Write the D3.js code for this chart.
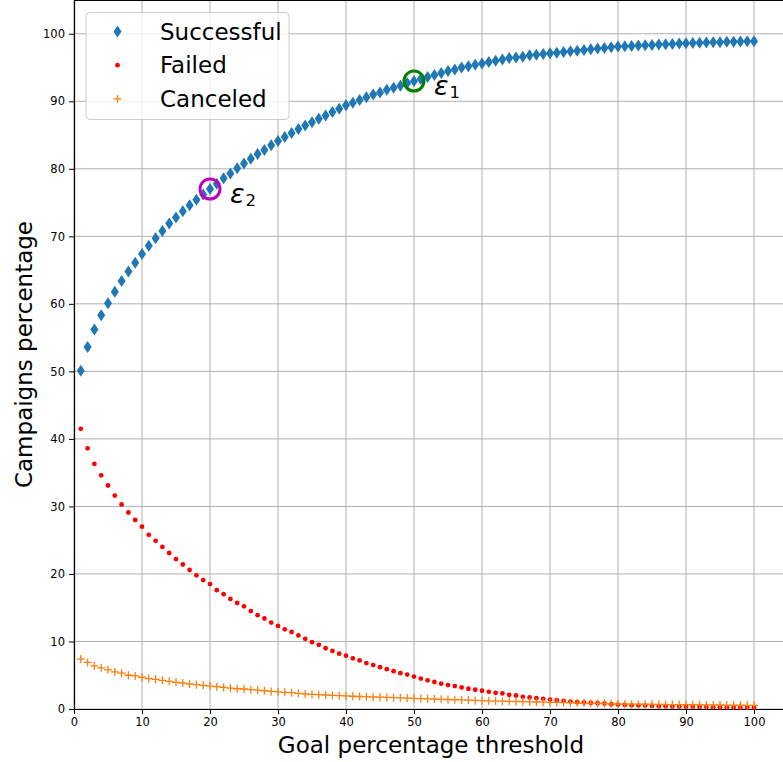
<!DOCTYPE html>
<html>
<head>
<meta charset="utf-8">
<script src="https://cdn.jsdelivr.net/npm/d3@7"></script>
<style>
  body { margin: 0; background: #fff; }
  svg { display: block; font-family: 'DejaVu Sans', sans-serif; }
</style>
</head>
<body>
<script>
'use strict';

// goal percentage thresholds (x)
const thresholds = [
  1, 2, 3, 4, 5, 6, 7, 8, 9, 10,
  11, 12, 13, 14, 15, 16, 17, 18, 19, 20,
  21, 22, 23, 24, 25, 26, 27, 28, 29, 30,
  31, 32, 33, 34, 35, 36, 37, 38, 39, 40,
  41, 42, 43, 44, 45, 46, 47, 48, 49, 50,
  51, 52, 53, 54, 55, 56, 57, 58, 59, 60,
  61, 62, 63, 64, 65, 66, 67, 68, 69, 70,
  71, 72, 73, 74, 75, 76, 77, 78, 79, 80,
  81, 82, 83, 84, 85, 86, 87, 88, 89, 90,
  91, 92, 93, 94, 95, 96, 97, 98, 99, 100
];

const successful = [
  50.1, 53.6, 56.2, 58.3, 60.1, 61.8, 63.4, 64.8, 66.1, 67.4,
  68.6, 69.7, 70.8, 71.9, 72.8, 73.7, 74.6, 75.4, 76.2, 77.0,
  77.8, 78.6, 79.3, 80.1, 80.8, 81.5, 82.2, 82.8, 83.5, 84.1,
  84.7, 85.3, 85.9, 86.4, 86.9, 87.4, 87.9, 88.4, 88.9, 89.4,
  89.8, 90.2, 90.6, 91.0, 91.3, 91.7, 92.0, 92.3, 92.7, 93.0,
  93.3, 93.6, 93.9, 94.2, 94.5, 94.7, 95.0, 95.2, 95.4, 95.6,
  95.8, 96.0, 96.2, 96.4, 96.5, 96.6, 96.8, 96.9, 97.0, 97.1,
  97.2, 97.3, 97.4, 97.5, 97.6, 97.7, 97.8, 97.9, 98.0, 98.1,
  98.15, 98.2, 98.25, 98.3, 98.35, 98.4, 98.45, 98.5, 98.55, 98.6,
  98.63, 98.66, 98.7, 98.73, 98.76, 98.8, 98.83, 98.86, 98.88, 98.9
];

const failed = [
  41.5, 38.6, 36.3, 34.6, 33.1, 31.6, 30.3, 29.1, 28.0, 27.0,
  25.8, 24.9, 24.0, 23.1, 22.2, 21.4, 20.6, 19.8, 19.1, 18.5,
  17.6, 17.0, 16.3, 15.7, 15.2, 14.5, 13.9, 13.4, 12.8, 12.3,
  11.8, 11.4, 10.9, 10.4, 9.9, 9.5, 9.0, 8.6, 8.2, 7.9,
  7.5, 7.2, 6.8, 6.5, 6.2, 5.9, 5.6, 5.3, 5.1, 4.8,
  4.5, 4.25, 4.0, 3.75, 3.55, 3.4, 3.2, 3.0, 2.85, 2.7,
  2.55, 2.4, 2.3, 2.1, 2.0, 1.8, 1.7, 1.6, 1.5, 1.4,
  1.3, 1.2, 1.1, 1.0, 0.95, 0.9, 0.85, 0.8, 0.7, 0.65,
  0.6, 0.55, 0.5, 0.5, 0.45, 0.42, 0.4, 0.38, 0.36, 0.34,
  0.32, 0.3, 0.28, 0.27, 0.25, 0.24, 0.23, 0.22, 0.21, 0.2
];

const canceled = [
  7.4, 6.9, 6.4, 6.1, 5.8, 5.5, 5.3, 5.0, 4.9, 4.7,
  4.5, 4.4, 4.25, 4.1, 3.95, 3.85, 3.7, 3.6, 3.5, 3.4,
  3.3, 3.2, 3.1, 3.0, 2.96, 2.86, 2.8, 2.7, 2.6, 2.55,
  2.47, 2.42, 2.32, 2.22, 2.17, 2.12, 2.07, 2.02, 1.97, 1.93,
  1.89, 1.85, 1.82, 1.78, 1.75, 1.71, 1.68, 1.65, 1.62, 1.58,
  1.55, 1.51, 1.48, 1.44, 1.41, 1.37, 1.34, 1.3, 1.27, 1.23,
  1.21, 1.18, 1.16, 1.13, 1.11, 1.08, 1.06, 1.04, 1.01, 0.99,
  0.97, 0.95, 0.93, 0.91, 0.89, 0.86, 0.83, 0.8, 0.77, 0.74,
  0.73, 0.72, 0.71, 0.7, 0.69, 0.68, 0.67, 0.66, 0.65, 0.64,
  0.63, 0.62, 0.61, 0.6, 0.59, 0.58, 0.57, 0.56, 0.55, 0.54
];

const seriesNames = ['Successful', 'Failed', 'Canceled'];
const xTicks = [0, 10, 20, 30, 40, 50, 60, 70, 80, 90, 100];
const yTicks = [0, 10, 20, 30, 40, 50, 60, 70, 80, 90, 100];

// highlighted thresholds on the Successful curve
const epsThresholds = [50, 20];
const epsLabels     = ['1', '2'];

const colors = {
  Successful: '#1f77b4',
  Failed:     '#ff0000',
  Canceled:   '#ff7f0e',
  eps:        ['#008000', '#bf00bf']
};

const width  = 783;
const height = 762;
const margin = { left: 74, top: 0, bottom: 53 };
const plotR  = 788;

const svg = d3.select('body')
              .append('svg')
              .attr('width', width)
              .attr('height', height);

const x = d3.scaleLinear().domain([0, 105]).range([margin.left, plotR]);
const y = d3.scaleLinear().domain([0, 105]).range([height - margin.bottom, margin.top]);

// grid
const grid = svg.append('g').attr('stroke', '#b0b0b0').attr('stroke-width', 1);
grid.selectAll('.gx').data(xTicks).enter().append('line')
    .attr('x1', d => x(d)).attr('x2', d => x(d))
    .attr('y1', y(0)).attr('y2', y(105));
grid.selectAll('.gy').data(yTicks).enter().append('line')
    .attr('x1', x(0)).attr('x2', x(105))
    .attr('y1', d => y(d)).attr('y2', d => y(d));

// axes
const xAxis = svg.append('g')
                 .attr('transform', 'translate(0,' + y(0) + ')')
                 .call(d3.axisBottom(x).tickValues(xTicks).tickSize(5).tickPadding(4).tickSizeOuter(0));
const yAxis = svg.append('g')
                 .attr('transform', 'translate(' + x(0) + ',0)')
                 .call(d3.axisLeft(y).tickValues(yTicks).tickSize(5).tickPadding(4).tickSizeOuter(0));

[xAxis, yAxis].forEach(ax => {
  ax.selectAll('text').attr('font-size', 11.5).attr('fill', '#000')
    .attr('font-family', 'DejaVu Sans');
  ax.selectAll('.tick line').attr('stroke', '#000').attr('stroke-width', 1);
  ax.select('.domain').attr('stroke', '#000').attr('stroke-width', 1.2);
});

// top spine
svg.append('line')
   .attr('x1', x(0)).attr('x2', plotR)
   .attr('y1', y(105) + 0.5).attr('y2', y(105) + 0.5)
   .attr('stroke', '#000').attr('stroke-width', 1.2);

// Successful: thin diamonds
const diamond = 'M0,-6L4,0L0,6L-4,0Z';
svg.append('g').selectAll('path').data(successful).enter().append('path')
   .attr('d', diamond)
   .attr('transform', (d, i) => 'translate(' + x(thresholds[i]) + ',' + y(d) + ')')
   .attr('fill', colors.Successful);

// Failed: dots
svg.append('g').selectAll('circle').data(failed).enter().append('circle')
   .attr('cx', (d, i) => x(thresholds[i]))
   .attr('cy', d => y(d))
   .attr('r', 2.4)
   .attr('fill', colors.Failed);

// Canceled: plus
const plus = 'M-4,0H4M0,-4V4';
svg.append('g').selectAll('path').data(canceled).enter().append('path')
   .attr('d', plus)
   .attr('transform', (d, i) => 'translate(' + x(thresholds[i]) + ',' + y(d) + ')')
   .attr('stroke', colors.Canceled)
   .attr('stroke-width', 1.3)
   .attr('fill', 'none');

// epsilon markers
epsThresholds.forEach((t, k) => {
  const cx = x(t);
  const cy = y(successful[thresholds.indexOf(t)]);
  svg.append('circle')
     .attr('cx', cx).attr('cy', cy).attr('r', 10)
     .attr('fill', 'none')
     .attr('stroke', colors.eps[k])
     .attr('stroke-width', 3);
  const lab = svg.append('text')
                 .attr('x', cx + 20)
                 .attr('y', cy + 14)
                 .attr('font-size', 27)
                 .attr('fill', '#000');
  lab.append('tspan').attr('font-style', 'italic').text('ε');
  lab.append('tspan').attr('font-size', 16.5).attr('dx', 1).attr('dy', 2.5).text(epsLabels[k]);
});

// axis labels
svg.append('text')
   .attr('x', (x(0) + plotR) / 2)
   .attr('y', 753)
   .attr('text-anchor', 'middle')
   .attr('font-size', 23)
   .text('Goal percentage threshold');

svg.append('text')
   .attr('transform', 'translate(31.5,' + (y(0) + y(105)) / 2 + ') rotate(-90)')
   .attr('text-anchor', 'middle')
   .attr('font-size', 23)
   .text('Campaigns percentage');

// legend
const legend = svg.append('g');
legend.append('rect')
      .attr('x', 86).attr('y', 12.5)
      .attr('width', 203).attr('height', 107)
      .attr('rx', 4)
      .attr('fill', '#fff').attr('fill-opacity', 0.8)
      .attr('stroke', '#cccccc').attr('stroke-width', 1);

const rows = legend.selectAll('g.row').data(seriesNames).enter().append('g')
                   .attr('transform', (d, i) => 'translate(117.5,' + (31.5 + i * 33.7) + ')');

rows.each(function(name) {
  const g = d3.select(this);
  if (name === 'Successful') {
    g.append('path').attr('d', diamond).attr('fill', colors.Successful);
  } else if (name === 'Failed') {
    g.append('circle').attr('r', 2.4).attr('fill', colors.Failed);
  } else {
    g.append('path').attr('d', plus).attr('stroke', colors.Canceled)
     .attr('stroke-width', 1.3).attr('fill', 'none');
  }
  g.append('text')
   .attr('x', 42.5)
   .attr('dy', '0.35em')
   .attr('font-size', 23)
   .text(name);
});
</script>
</body>
</html>
